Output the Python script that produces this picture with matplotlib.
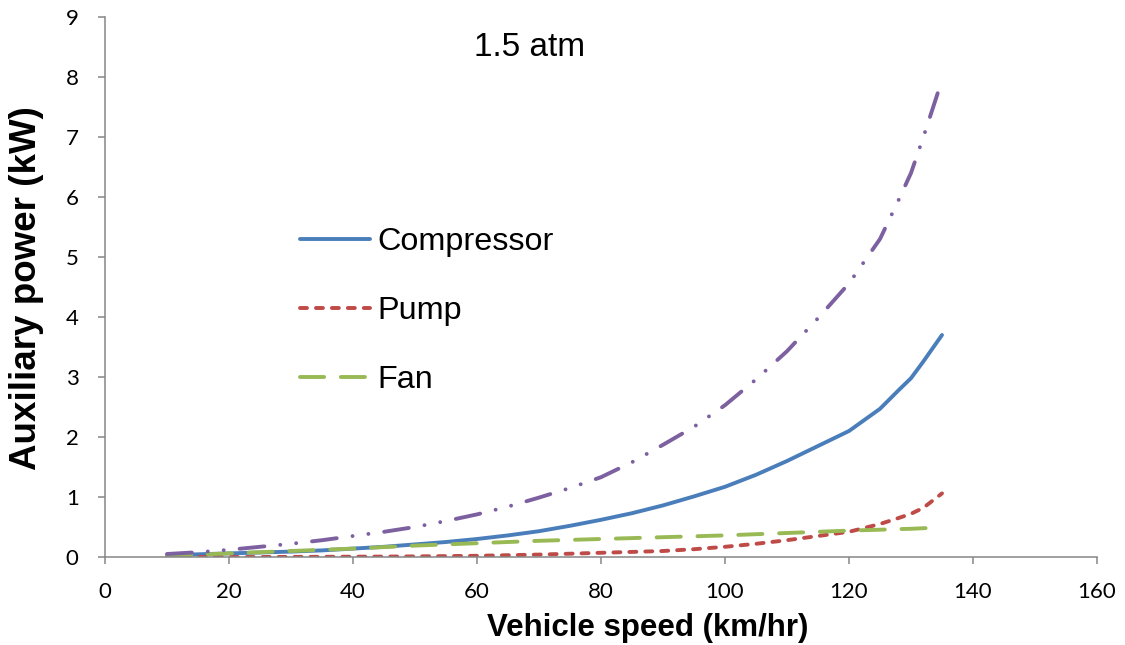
import matplotlib
matplotlib.use("Agg")
import matplotlib.pyplot as plt

# ---- data ----
speed = [10, 15, 20, 25, 30, 35, 40, 45, 50, 55, 60, 65, 70, 75, 80, 85, 90, 95,
         100, 105, 110, 115, 120, 125, 128, 130, 132, 135]
compressor = [0.03, 0.045, 0.06, 0.075, 0.09, 0.11, 0.14, 0.17, 0.21, 0.25, 0.30, 0.36, 0.43, 0.52,
              0.62, 0.73, 0.86, 1.01, 1.17, 1.37, 1.60, 1.85, 2.10, 2.47, 2.78, 2.98, 3.26, 3.70]
pump = [0.0, 0.0, 0.0, 0.0, 0.002, 0.003, 0.005, 0.007, 0.01, 0.015, 0.02, 0.03, 0.04, 0.055,
        0.07, 0.085, 0.10, 0.13, 0.17, 0.22, 0.28, 0.35, 0.42, 0.55, 0.65, 0.72, 0.82, 1.06]
fan = [0.02, 0.04, 0.06, 0.08, 0.10, 0.12, 0.14, 0.165, 0.19, 0.21, 0.23, 0.25, 0.27, 0.285,
       0.30, 0.315, 0.33, 0.345, 0.36, 0.38, 0.40, 0.42, 0.44, 0.455, 0.465, 0.47, 0.48, 0.49]
total = [0.05, 0.08, 0.12, 0.17, 0.22, 0.28, 0.35, 0.42, 0.50, 0.60, 0.71, 0.84, 0.99, 1.15,
         1.33, 1.58, 1.87, 2.17, 2.53, 2.96, 3.43, 3.98, 4.56, 5.30, 5.95, 6.40, 7.00, 7.95]

series_labels = ["Compressor", "Pump", "Fan"]
annotation = "1.5 atm"
x_ticks = [0, 20, 40, 60, 80, 100, 120, 140, 160]
y_ticks = [0, 1, 2, 3, 4, 5, 6, 7, 8, 9]

# ---- figure ----
W, H = 1125, 645
fig = plt.figure(figsize=(W / 100, H / 100), dpi=100)
ax = fig.add_axes([105 / W, 1 - 557 / H, (1097 - 105) / W, (557 - 17) / H])

lw = 2.8
blue, red, green, purple = "#4A7EBB", "#BE4B48", "#98B954", "#7D60A0"

l1, = ax.plot(speed, compressor, color=blue, lw=lw, solid_capstyle="round",
              solid_joinstyle="round", label=series_labels[0])
l2, = ax.plot(speed, pump, color=red, lw=lw, dash_capstyle="round", label=series_labels[1])
l2.set_dashes((1.8, 2.3))
l3, = ax.plot(speed, fan, color=green, lw=lw, dash_capstyle="round", label=series_labels[2])
l3.set_dashes((6.2, 4.3))
l4, = ax.plot(speed, total, color=purple, lw=lw, dash_capstyle="round")
l4.set_dashes((6.4, 4.1, 0.01, 4.1, 0.01, 4.1))

ax.set_xlim(0, 160)
ax.set_ylim(0, 9)
ax.set_xticks(x_ticks)
ax.set_yticks(y_ticks)

spine_c = "#868686"
for s in ["top", "right"]:
    ax.spines[s].set_visible(False)
for s in ["left", "bottom"]:
    ax.spines[s].set_color(spine_c)
    ax.spines[s].set_linewidth(1.1)
ax.tick_params(axis="both", direction="out", length=5, width=1.1, color=spine_c,
               labelsize=16, labelcolor="black")
ax.tick_params(axis="y", pad=14)
ax.tick_params(axis="x", pad=13)
for t in ax.get_xticklabels() + ax.get_yticklabels():
    t.set_family(["Lato", "DejaVu Sans"])

fam = ["Liberation Sans", "DejaVu Sans"]
ax.set_xlabel("Vehicle speed (km/hr)", family=fam, fontsize=22.5, fontweight="bold")
ax.set_ylabel("Auxiliary power (kW)", family=fam, fontsize=26.5, fontweight="bold")
ax.xaxis.set_label_coords(0.5475, -0.103)
ax.yaxis.set_label_coords(-0.0615, 0.498)

ax.text(68.4, 8.5, annotation, ha="center", va="center", family=fam, fontsize=24)

leg = ax.legend(handles=[l1, l2, l3], loc="upper left",
                bbox_to_anchor=((300 - 105) / 992, (557 - 227) / 540),
                frameon=False, prop=dict(family=fam, size=23.3),
                handlelength=2.16, handletextpad=0.22, labelspacing=1.21,
                borderpad=0, borderaxespad=0)

fig.savefig("out.png", dpi=100)
